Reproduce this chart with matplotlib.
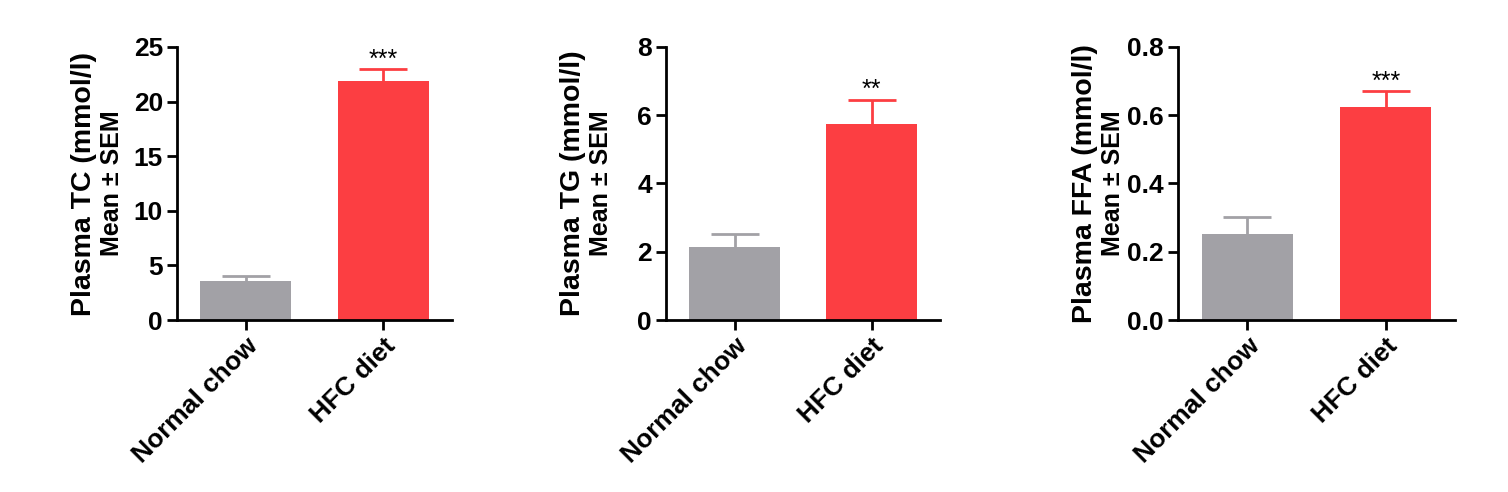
import matplotlib.pyplot as plt
import matplotlib.transforms as mtransforms
from matplotlib.ticker import FormatStrFormatter

plt.rcParams['font.family'] = ['Liberation Sans', 'DejaVu Sans']

groups = ['Normal chow', 'HFC diet']
colors = ['#A2A1A6', '#FC3E42']

# mean and SEM per panel
tc_mean = [3.55, 21.9]
tc_sem = [0.5, 1.05]
tg_mean = [2.13, 5.75]
tg_sem = [0.38, 0.7]
ffa_mean = [0.251, 0.624]
ffa_sem = [0.05, 0.046]

stars = ['***', '**', '***']
ylabels = ['Plasma TC (mmol/l)', 'Plasma TG (mmol/l)', 'Plasma FFA (mmol/l)']
ylims = [25, 8, 0.8]
ysteps = [5, 2, 0.2]
yfmt = ['%d', '%d', '%.1f']

panels = [(tc_mean, tc_sem), (tg_mean, tg_sem), (ffa_mean, ffa_sem)]
lefts = [177, 666, 1178]
widths = [275, 274, 277]

W, H = 1508, 492
fig = plt.figure(figsize=(W / 100, H / 100), dpi=100)
# nudge the rotated group labels a little left/down
shift = mtransforms.ScaledTranslation(-5 / 100, -3 / 100, fig.dpi_scale_trans)

for i, (mean, sem) in enumerate(panels):
    ax = fig.add_axes([lefts[i] / W, (H - 320) / H, widths[i] / W, 273 / H])
    x = range(len(groups))
    for j in x:
        ax.bar(j, mean[j], width=0.66, color=colors[j], zorder=2)
        eb = ax.errorbar(j, mean[j], yerr=[[0], [sem[j]]], color=colors[j],
                         capsize=17, elinewidth=2, capthick=2, zorder=1)
        eb[1][0].set_visible(False)  # only the upper cap
    top = mean[1] + sem[1]
    ax.annotate(stars[i], (1, top), xytext=(0, -1.5), textcoords='offset points',
                ha='center', va='bottom', fontsize=18)

    ax.set_xlim(-0.5, 1.5)
    ax.set_ylim(0, ylims[i])
    n = round(ylims[i] / ysteps[i])
    ax.set_yticks([k * ysteps[i] for k in range(n + 1)])
    ax.yaxis.set_major_formatter(FormatStrFormatter(yfmt[i]))
    ax.set_xticks(list(x))
    ax.set_xticklabels(groups, rotation=45, ha='right', rotation_mode='anchor',
                       fontsize=19, fontweight='bold')
    for lab in ax.get_xticklabels():
        lab.set_transform(lab.get_transform() + shift)
    for lab in ax.get_yticklabels():
        lab.set_fontsize(19)
        lab.set_fontweight('bold')

    ax.spines['top'].set_visible(False)
    ax.spines['right'].set_visible(False)
    ax.spines['left'].set_linewidth(2)
    ax.spines['bottom'].set_linewidth(2)
    ax.tick_params(width=2, length=7, direction='out', pad=3)

    ax.text(-93 / widths[i], 0.5, ylabels[i], transform=ax.transAxes, rotation=90,
            ha='center', va='center', fontsize=20.5, fontweight='bold')
    ax.text(-65 / widths[i], 0.5, 'Mean ± SEM', transform=ax.transAxes, rotation=90,
            ha='center', va='center', fontsize=18, fontweight='bold')

fig.savefig('out.png', dpi=100)
